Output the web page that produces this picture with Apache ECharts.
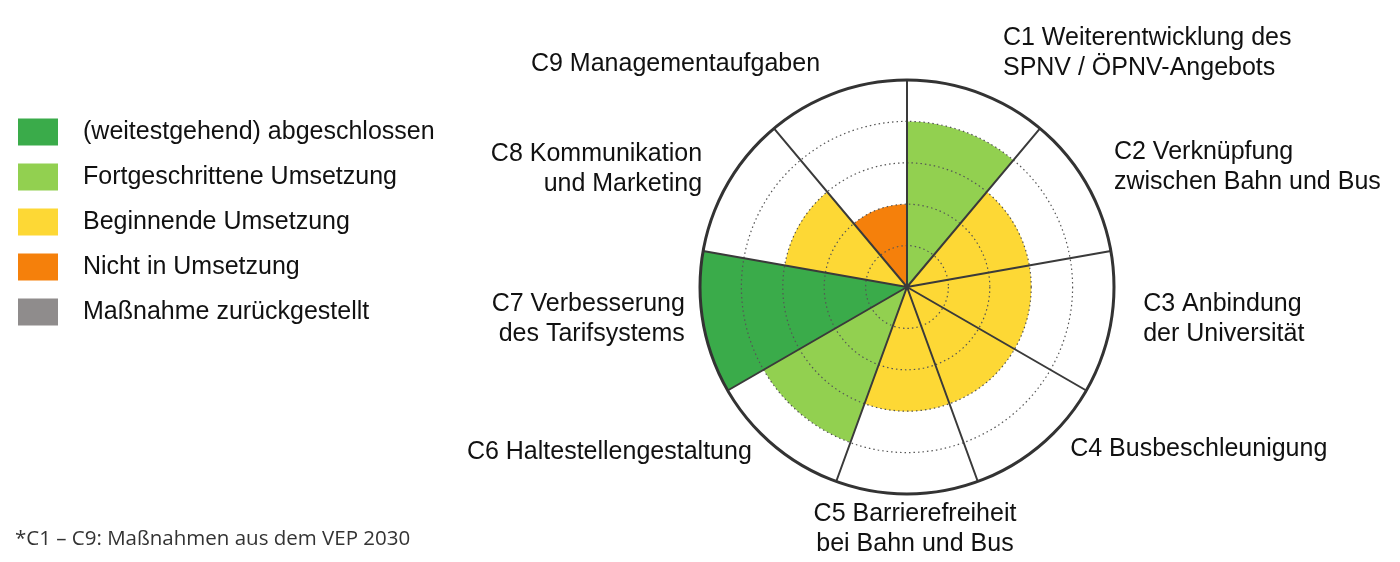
<!DOCTYPE html>
<html>
<head>
<meta charset="utf-8">
<script src="https://cdn.jsdelivr.net/npm/echarts@6/dist/echarts.min.js"></script>
<style>
  html, body { margin: 0; padding: 0; background: #fff; }
  #main { width: 1400px; height: 562px; }
</style>
</head>
<body>
<div id="main"></div>
<script>
// Maßnahmen C1..C9 (clockwise from top)
var categories = [
  'C1 Weiterentwicklung des\nSPNV / ÖPNV-Angebots',
  'C2 Verknüpfung\nzwischen Bahn und Bus',
  'C3 Anbindung\nder Universität',
  'C4 Busbeschleunigung',
  'C5 Barrierefreiheit\nbei Bahn und Bus',
  'C6 Haltestellengestaltung',
  'C7 Verbesserung\ndes Tarifsystems',
  'C8 Kommunikation\nund Marketing',
  'C9 Managementaufgaben'
];
// Umsetzungsstand je Maßnahme (5 = abgeschlossen ... 2 = nicht in Umsetzung)
var levels = [4, 3, 3, 3, 3, 4, 5, 3, 2];

// status classes (legend)
var statusNames = [
  '(weitestgehend) abgeschlossen',
  'Fortgeschrittene Umsetzung',
  'Beginnende Umsetzung',
  'Nicht in Umsetzung',
  'Maßnahme zurückgestellt'
];
var statusLevels = [5, 4, 3, 2, 1];
var statusColors = ['#3aab4a', '#92d050', '#fdd835', '#f5800b', '#8f8c8c'];

// label nudges [top, right, bottom, left]
var labelPad = [
  [0, 0, 28, 32],
  [0, 0, -4, 45],
  [0, 0, 7, 52],
  [4, 0, 0, 43],
  [25, 0, 0, 16],
  [7, 35, 0, 0],
  [13, 38, 0, 0],
  [0, 43, -6, 0],
  [0, 23, 32, 0]
];

var chart = echarts.init(document.getElementById('main'));

var series = statusNames.map(function (name, i) {
  return {
    name: name,
    type: 'bar',
    coordinateSystem: 'polar',
    stack: 'stand',
    barCategoryGap: '0%',
    itemStyle: {color: statusColors[i]},
    data: levels.map(function (v) {
      return v === statusLevels[i] ? v : null;
    })
  };
});

var option = {
  animation: false,
  color: statusColors,
  title: {
    text: '*C1 – C9: Maßnahmen aus dem VEP 2030',
    left: 10,
    top: 524,
    textStyle: {
      fontFamily: 'Open Sans',
      fontSize: 20.5,
      fontWeight: 'normal',
      color: '#333'
    }
  },
  legend: {
    orient: 'vertical',
    left: 13,
    top: 113,
    icon: 'rect',
    itemWidth: 40,
    itemHeight: 27,
    itemGap: 17,
    selectedMode: false,
    data: statusNames,
    textStyle: {
      fontFamily: 'Liberation Sans',
      fontSize: 25,
      lineHeight: 28,
      color: '#111',
      padding: [0, 0, 0, 20]
    }
  },
  polar: {
    center: [907, 287],
    radius: 207
  },
  angleAxis: {
    type: 'category',
    data: categories.map(function (c, i) {
      return {value: c, textStyle: {padding: labelPad[i]}};
    }),
    startAngle: 90,
    clockwise: true,
    z: 4,
    axisTick: {show: false},
    axisLine: {lineStyle: {color: '#333', width: 3}},
    splitLine: {show: true, lineStyle: {color: '#3a3a3a', width: 2}},
    axisLabel: {
      margin: -20,
      fontFamily: 'Liberation Sans',
      fontSize: 25,
      lineHeight: 30,
      color: '#111'
    }
  },
  radiusAxis: {
    type: 'value',
    min: 0,
    max: 5,
    interval: 1,
    z: 3,
    axisLine: {show: false},
    axisTick: {show: false},
    axisLabel: {show: false},
    splitLine: {show: true, lineStyle: {color: '#555', type: [1.5, 3], width: 1.2}}
  },
  series: series
};

chart.setOption(option);
</script>
</body>
</html>
